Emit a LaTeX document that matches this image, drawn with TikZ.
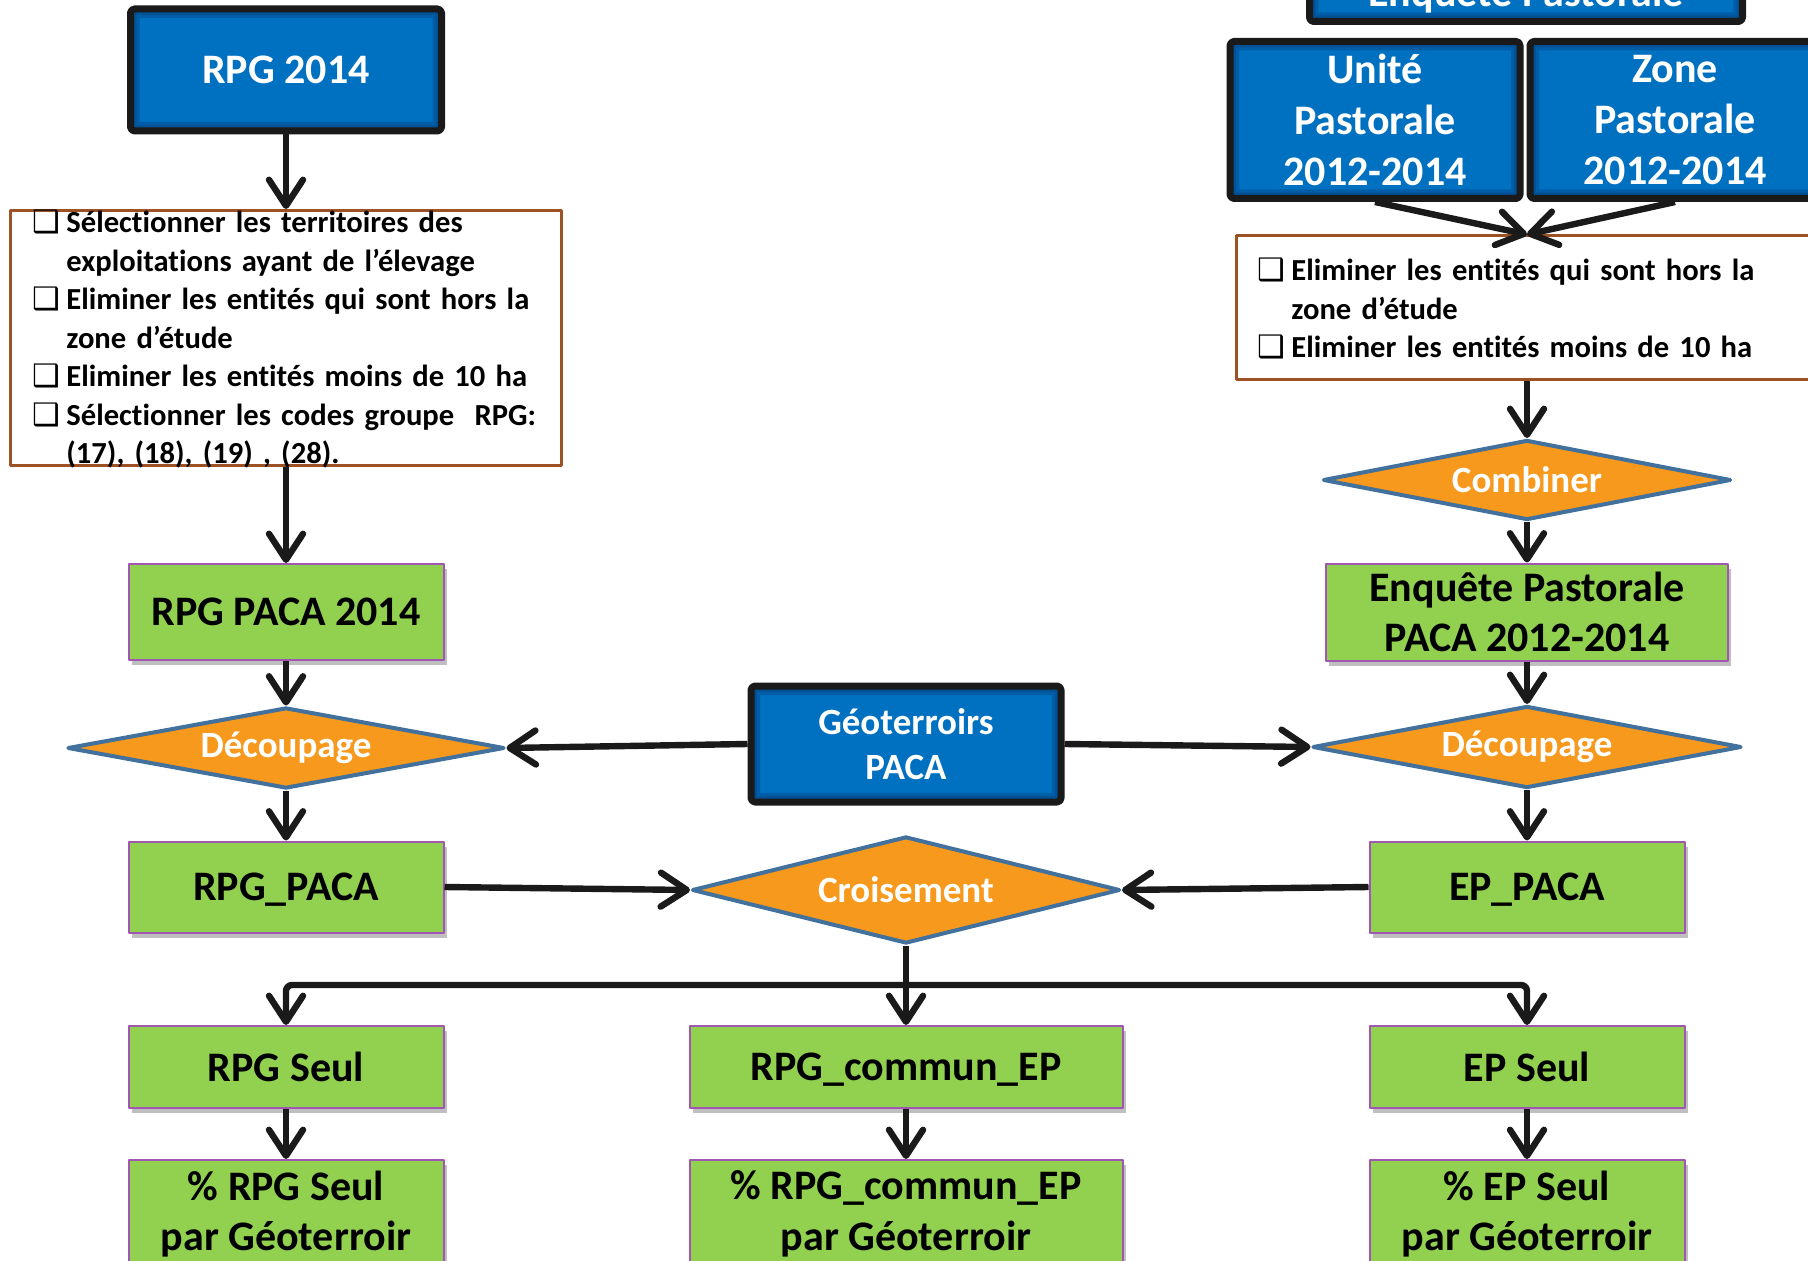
\documentclass[tikz,border=0pt]{standalone}
\usepackage{fontspec}
\setmainfont{Carlito}[Ligatures=NoCommon]
\newfontfamily\symbfont{DejaVu Sans}
\usepackage{tikz}
\usetikzlibrary{shapes.geometric}
\usetikzlibrary{positioning}
\usetikzlibrary{arrows.meta, shadows}
\definecolor{bleuRPG}{RGB}{0,112,192}
\definecolor{bleuFonce}{RGB}{0,62,125}
\definecolor{noirTrait}{RGB}{26,26,26}
\definecolor{vertRPG}{RGB}{146,208,80}
\definecolor{violetBord}{RGB}{162,86,180}
\definecolor{orangeOp}{RGB}{247,153,29}
\definecolor{bleuBord}{RGB}{65,113,156}
\definecolor{brunCadre}{RGB}{156,82,36}
\newcommand{\puce}{\makebox[17pt][l]{\symbfont\fontsize{15.5}{15.5}\selectfont ❑}}
\newcommand{\suite}{\hspace*{17pt}}

\begin{document}
\begin{tikzpicture}[x=0.5pt, y=-0.5pt, line join=round]
		\tikzset{>={Straight Barb[length=13pt, width=17pt, round]}}
		\tikzset{
			fleche/.style={->, line width=3.2pt, draw=noirTrait},
			source/.style={rectangle, rounded corners=2pt, fill=bleuRPG, draw=noirTrait, line width=3.5pt, text=white, align=center, inner sep=2pt, font=\fontsize{21}{25.5}\selectfont\bfseries,
				path picture={\draw[bleuFonce, line width=9pt, opacity=0.35] (path picture bounding box.south west) rectangle (path picture bounding box.north east);
					\draw[bleuFonce, line width=6pt, opacity=0.4] (path picture bounding box.south west) rectangle (path picture bounding box.north east);}},
			resultat/.style={rectangle, fill=vertRPG, draw=violetBord, line width=1pt, align=center, inner sep=2pt, font=\fontsize{21}{25.4}\selectfont\bfseries, drop shadow={shadow xshift=1.5pt, shadow yshift=-2.5pt, fill=black, opacity=0.25}},
			operation/.style={diamond, aspect=5, inner sep=0pt, fill=orangeOp, draw=bleuBord, line width=2pt, text=white, font=\fontsize{18.5}{22.5}\selectfont\bfseries},
			filtre/.style={rectangle, draw=brunCadre, line width=1.5pt, fill=white},
			consigne/.style={anchor=base west, align=left, text width=300pt, inner sep=0pt, font=\fontsize{15.3}{19.25}\selectfont\bfseries}
		}
		\useasboundingbox (0,0) rectangle (1808,1261);
		\fill[white] (0,0) rectangle (1808,1261);
		\clip (0,0) rectangle (1808,1261);

		% colonne RPG
		\node[source, minimum width=155.5pt, minimum height=61pt] (rpg) at (286,70) {RPG 2014};
		\node[filtre, minimum width=275.5pt, minimum height=127.5pt] (filtre1) at (286,338) {};
		\node[consigne] (liste1) at (32,233) {\puce Sélectionner les territoires des\\ \suite exploitations ayant de l’élevage\\ \puce Eliminer les entités qui sont hors la\\ \suite zone d’étude\\ \puce Eliminer les entités moins de 10 ha\\ \puce Sélectionner les codes groupe \ RPG:\\ \suite (17), (18), (19) , (28).};
		\node[resultat, minimum width=157.5pt, minimum height=48pt] (rpgpaca14) at (286,612) {RPG PACA 2014};
		\node[operation, minimum width=218.5pt, minimum height=40.5pt] (dec1) at (286,748) {Découpage};
		\node[resultat, text depth=0pt, minimum width=157.5pt, minimum height=45.5pt] (rpgpaca) at (286,887) {RPG\_PACA};
		\node[resultat, minimum width=157.5pt, minimum height=41pt] (rpgseul) at (286,1067) {RPG Seul};
		\node[resultat, minimum width=157.5pt, minimum height=54pt, anchor=north] (prpgseul) at (286,1159) {\% RPG Seul\\par Géoterroir};

		% colonne centrale
		\node[source, font=\fontsize{18.5}{22.5}\selectfont\bfseries, minimum width=155pt, minimum height=58pt] (geo) at (906,744) {Géoterroirs\\PACA};
		\node[operation, minimum width=214pt, minimum height=53.5pt] (crois) at (906,890) {Croisement};
		\node[resultat, text depth=0pt, minimum width=216.5pt, minimum height=41pt] (commun) at (906,1067) {RPG\_commun\_EP};
		\node[resultat, minimum width=216.5pt, minimum height=54pt, anchor=north] (pcommun) at (906,1159) {\% RPG\_commun\_EP\\par Géoterroir};

		% colonne enquete pastorale
		\node[source, minimum width=216.5pt, minimum height=26.5pt] (enq) at (1526,-5) {Enquête Pastorale};
		\node[source, minimum width=145pt, minimum height=78.5pt] (unite) at (1375,120) {Unité\\Pastorale\\2012-2014};
		\node[source, minimum width=145pt, minimum height=78.5pt, right=1.5pt of unite] (zone) {Zone\\Pastorale\\2012-2014};
		\node[filtre, minimum width=290.5pt, minimum height=72pt] (filtre2) at (1527,308) {};
		\node[consigne] (liste2) at (1257,281) {\puce Eliminer les entités qui sont hors la\\ \suite zone d’étude\\ \puce Eliminer les entités moins de 10 ha};
		\node[operation, minimum width=204pt, minimum height=40pt] (comb) at (1527,480) {Combiner};
		\node[resultat, minimum width=201pt, minimum height=48.5pt] (eppaca14) at (1527,612) {Enquête Pastorale\\PACA 2012-2014};
		\node[operation, minimum width=214.5pt, minimum height=41pt] (dec2) at (1527,747) {Découpage};
		\node[resultat, text depth=0pt, minimum width=157.5pt, minimum height=45.5pt] (eppaca) at (1527,887) {EP\_PACA};
		\node[resultat, minimum width=157.5pt, minimum height=41pt] (epseul) at (1527,1067) {EP Seul};
		\node[resultat, minimum width=157.5pt, minimum height=54pt, anchor=north] (pepseul) at (1527,1159) {\% EP Seul\\par Géoterroir};

		\coordinate (jonction) at (906,985);

		% fleches a gauche
		\path (rpg.south) edge[fleche] (filtre1.north);
		\path (filtre1.south) edge[fleche] (rpgpaca14.north);
		\path (rpgpaca14.south) edge[fleche] (dec1.north);
		\path (dec1.south) edge[fleche] (rpgpaca.north);
		\path (rpgseul.south) edge[fleche] (prpgseul.north);

		% fleches a droite
		\path (unite.south) edge[fleche] (filtre2.north);
		\path (zone.south) edge[fleche] (filtre2.north);
		\path (filtre2.south) edge[fleche] (comb.north);
		\path (comb.south) edge[fleche] (eppaca14.north);
		\path (eppaca14.south) edge[fleche] (dec2.north);
		\path (dec2.south) edge[fleche] (eppaca.north);
		\path (epseul.south) edge[fleche] (pepseul.north);

		% geoterroirs et croisement
		\path (geo.west) edge[fleche] (dec1.east);
		\path (geo.east) edge[fleche] (dec2.west);
		\path (rpgpaca.east) edge[fleche] (crois.west);
		\path (eppaca.west) edge[fleche] (crois.east);
		\path (crois.south) edge[fleche] (commun.north);
		\draw[fleche, rounded corners=3pt] (jonction) -| (rpgseul.north);
		\draw[fleche, rounded corners=3pt] (jonction) -| (epseul.north);
		\path (commun.south) edge[fleche] (pcommun.north);
	\end{tikzpicture}
\end{document}
